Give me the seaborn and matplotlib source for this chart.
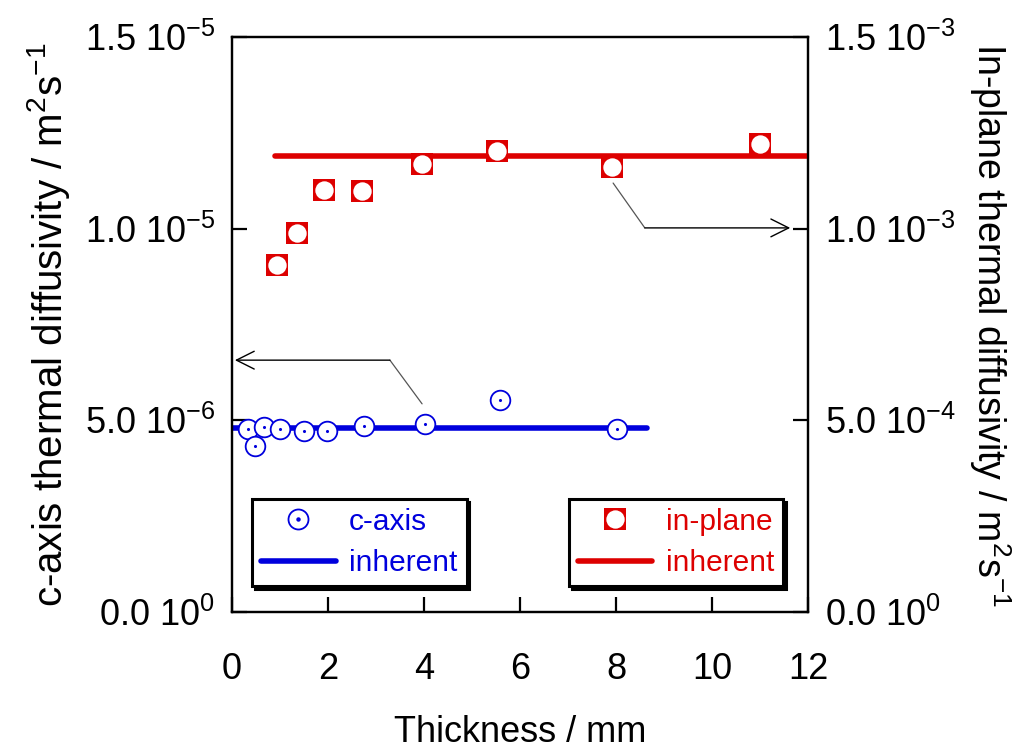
import numpy as np
import pandas as pd
import matplotlib
matplotlib.use("Agg")
import matplotlib.pyplot as plt
import seaborn as sns
from matplotlib.lines import Line2D
from matplotlib.legend_handler import HandlerTuple
from matplotlib.ticker import FixedLocator, FixedFormatter

# ---------------- data ----------------
c_thickness = [0.33, 0.48, 0.67, 1.00, 1.49, 1.98, 2.75, 4.03, 5.58, 8.02]
c_diffusivity = [4.77e-6, 4.34e-6, 4.83e-6, 4.78e-6, 4.73e-6, 4.72e-6,
                 4.86e-6, 4.91e-6, 5.53e-6, 4.77e-6]
ip_thickness = [0.94, 1.35, 1.92, 2.71, 3.96, 5.52, 7.92, 11.0]
ip_diffusivity = [0.905e-3, 0.989e-3, 1.101e-3, 1.098e-3, 1.169e-3,
                  1.203e-3, 1.161e-3, 1.221e-3]
c_inherent_x = [0.0, 8.65]
c_inherent_y = [4.79e-6, 4.79e-6]
ip_inherent_x = [0.9, 12.0]
ip_inherent_y = [1.19e-3, 1.19e-3]

x_ticks = [0, 2, 4, 6, 8, 10, 12]
left_ticks = [0.0, 5e-6, 1e-5, 1.5e-5]
left_tick_labels = ["0.0 10$^{0}$", "5.0 10$^{-6}$", "1.0 10$^{-5}$", "1.5 10$^{-5}$"]
right_ticks = [0.0, 5e-4, 1e-3, 1.5e-3]
right_tick_labels = ["0.0 10$^{0}$", "5.0 10$^{-4}$", "1.0 10$^{-3}$", "1.5 10$^{-3}$"]

# annotation guide arrows (x, y) : start, bend, tip
c_arrow_path = ([3.96, 3.29, 0.06], [5.43e-6, 6.57e-6, 6.57e-6])
ip_arrow_path = ([7.94, 8.60, 11.63], [1.119e-3, 1.002e-3, 1.002e-3])

BLUE = "#0000dd"
RED = "#dd0000"

# ---------------- style ----------------
sns.set_style("white")
plt.rcParams["font.family"] = ["Liberation Sans", "DejaVu Sans"]
plt.rcParams["mathtext.default"] = "regular"
plt.rcParams["axes.linewidth"] = 1.6
for k in ("text.color", "axes.labelcolor", "xtick.color", "ytick.color", "axes.edgecolor"):
    plt.rcParams[k] = "black"

fig = plt.figure(figsize=(10.16, 7.51), dpi=100)
ax = fig.add_axes([232 / 1016, 1 - 612 / 751, 576 / 1016, 575 / 751])
ax2 = ax.twinx()

df_c = pd.DataFrame({"t": c_thickness, "d": c_diffusivity})
df_ip = pd.DataFrame({"t": ip_thickness, "d": ip_diffusivity})

# inherent lines
sns.lineplot(x=c_inherent_x, y=c_inherent_y, ax=ax, color=BLUE, lw=4, zorder=2)
sns.lineplot(x=ip_inherent_x, y=ip_inherent_y, ax=ax2, color=RED, lw=4, zorder=2)

# c-axis markers: open circle with dot
sns.scatterplot(data=df_c, x="t", y="d", ax=ax, marker="o", s=200,
                color="white", edgecolor=BLUE, linewidth=1.3, zorder=3)
sns.scatterplot(data=df_c, x="t", y="d", ax=ax, marker="o", s=5,
                color=BLUE, edgecolor=BLUE, linewidth=0, zorder=4)

# in-plane markers: red square with white circle
sns.scatterplot(data=df_ip, x="t", y="d", ax=ax2, marker="s", s=250,
                color=RED, edgecolor=RED, linewidth=0, zorder=3)
sns.scatterplot(data=df_ip, x="t", y="d", ax=ax2, marker="o", s=175,
                color="white", edgecolor="white", linewidth=0, zorder=4)

# guide arrows
ax.plot(c_arrow_path[0][:2], c_arrow_path[1][:2], color="#555555", lw=0.9)
ax.annotate("", xy=(c_arrow_path[0][2], c_arrow_path[1][2]),
            xytext=(c_arrow_path[0][1], c_arrow_path[1][1]),
            arrowprops=dict(arrowstyle="->", color="black", lw=1.0,
                            mutation_scale=32, shrinkA=0, shrinkB=0))
ax2.plot(ip_arrow_path[0][:2], ip_arrow_path[1][:2], color="#555555", lw=0.9)
ax2.annotate("", xy=(ip_arrow_path[0][2], ip_arrow_path[1][2]),
             xytext=(ip_arrow_path[0][1], ip_arrow_path[1][1]),
             arrowprops=dict(arrowstyle="->", color="black", lw=1.0,
                             mutation_scale=32, shrinkA=0, shrinkB=0))

# axes limits and ticks
ax.set_xlim(0, 12)
ax.set_ylim(0, 1.5e-5)
ax2.set_ylim(0, 1.5e-3)
ax.xaxis.set_major_locator(FixedLocator(x_ticks))
ax.yaxis.set_major_locator(FixedLocator(left_ticks))
ax.yaxis.set_major_formatter(FixedFormatter(left_tick_labels))
ax2.yaxis.set_major_locator(FixedLocator(right_ticks))
ax2.yaxis.set_major_formatter(FixedFormatter(right_tick_labels))

FS = 26
ax.tick_params(axis="x", direction="in", length=11, width=1.6, labelsize=FS, pad=29,
               top=False, bottom=True, colors="black")
ax.tick_params(axis="y", direction="in", length=11, width=1.6, labelsize=FS, pad=12,
               left=True, right=False, colors="black")
ax2.tick_params(axis="y", direction="in", length=11, width=1.6, labelsize=FS, pad=12,
                right=True, left=False, colors="black")
for a in (ax, ax2):
    for s in a.spines.values():
        s.set_visible(True)
        s.set_color("black")
        s.set_linewidth(1.6)

ax.set_xlabel("Thickness / mm", fontsize=FS, labelpad=20, color="black")
ax.set_ylabel("c-axis thermal diffusivity / m$^{2}$s$^{-1}$", fontsize=29,
              labelpad=9, color="black")
ax2.set_ylabel("In-plane thermal diffusivity / m$^{2}$s$^{-1}$", fontsize=27,
               rotation=270, va="bottom", labelpad=8, color="black")

# legends
LFS = 21.5
h_c = (Line2D([], [], marker="o", ms=14.4, mfc="white", mec=BLUE, mew=1.3, ls=""),
       Line2D([], [], marker="o", ms=2.2, mfc=BLUE, mec=BLUE, ls=""))
h_cl = Line2D([], [], color=BLUE, lw=4)
leg_kw = dict(borderaxespad=0, fontsize=LFS,
              handler_map={tuple: HandlerTuple(ndivide=1)},
              handlelength=2.5, handletextpad=0.45, labelspacing=0.45,
              fancybox=False, framealpha=1, edgecolor="black", borderpad=0.3,
              shadow={"color": "black", "alpha": 1})
leg1 = ax.legend([h_c, h_cl], ["c-axis", "inherent"], loc="lower left",
                 bbox_to_anchor=(0.035, 0.045), **leg_kw)
leg1.get_frame().set_linewidth(2.2)
for t in leg1.get_texts():
    t.set_color(BLUE)

h_ip = (Line2D([], [], marker="s", ms=15.8, mfc=RED, mec=RED, mew=0, ls=""),
        Line2D([], [], marker="o", ms=13.2, mfc="white", mec="white", mew=0, ls=""))
h_ipl = Line2D([], [], color=RED, lw=4)
leg2 = ax2.legend([h_ip, h_ipl], ["in-plane", "inherent"], loc="lower right",
                  bbox_to_anchor=(0.957, 0.045), **leg_kw)
leg2.get_frame().set_linewidth(2.2)
for t in leg2.get_texts():
    t.set_color(RED)

fig.savefig("out.png", dpi=100)
